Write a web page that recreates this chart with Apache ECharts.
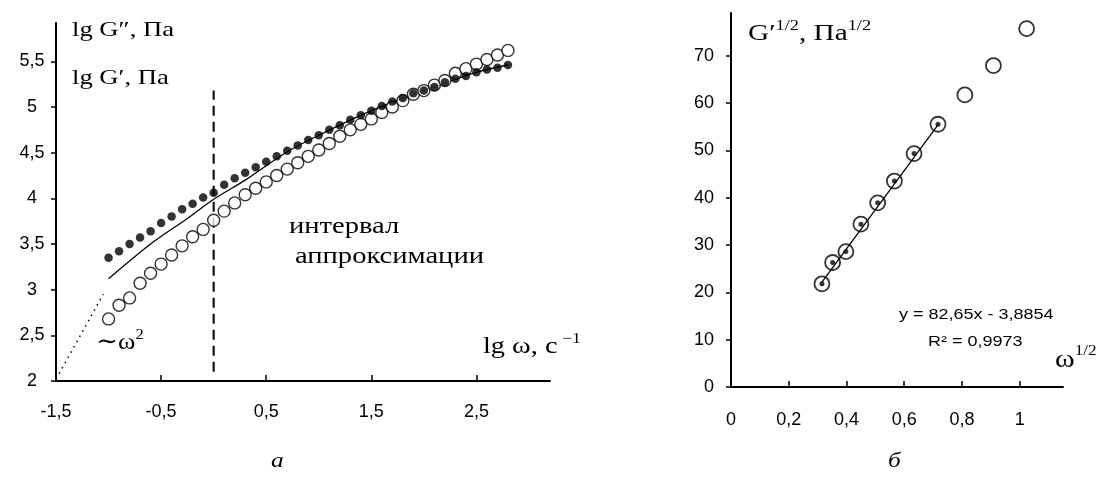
<!DOCTYPE html>
<html>
<head>
<meta charset="utf-8">
<script src="https://cdn.jsdelivr.net/npm/echarts@6/dist/echarts.min.js"></script>
<style>
  html, body { margin: 0; padding: 0; background: #fff; }
  #chart { width: 1103px; height: 492px; }
</style>
</head>
<body>
<div id="chart"></div>
<script>
// ---- Panel a: frequency sweep, lg G″ (filled) and lg G′ (open) vs lg ω ----
const lgOmega = [-1.0, -0.9, -0.8, -0.7, -0.6, -0.5, -0.4, -0.3, -0.2, -0.1,
                 0.0, 0.1, 0.2, 0.3, 0.4, 0.5, 0.6, 0.7, 0.8, 0.9,
                 1.0, 1.1, 1.2, 1.3, 1.4, 1.5, 1.6, 1.7, 1.8, 1.9,
                 2.0, 2.1, 2.2, 2.3, 2.4, 2.5, 2.6, 2.7, 2.8];
const lgLossModulus = [3.35, 3.42, 3.50, 3.57, 3.64, 3.73, 3.80, 3.88, 3.94, 4.01,
                       4.06, 4.15, 4.22, 4.28, 4.34, 4.40, 4.46, 4.52, 4.58, 4.64,
                       4.69, 4.75, 4.80, 4.86, 4.91, 4.96, 5.01, 5.06, 5.10, 5.15,
                       5.18, 5.22, 5.27, 5.31, 5.34, 5.38, 5.41, 5.43, 5.46];
const lgStorageModulus = [2.68, 2.83, 2.91, 3.07, 3.18, 3.28, 3.38, 3.48, 3.58, 3.66,
                          3.76, 3.86, 3.95, 4.04, 4.11, 4.18, 4.25, 4.32, 4.39, 4.46,
                          4.53, 4.60, 4.68, 4.75, 4.81, 4.87, 4.94, 5.00, 5.07, 5.14,
                          5.18, 5.24, 5.29, 5.37, 5.42, 5.47, 5.52, 5.57, 5.62];
// smooth guide curve
const guideX = [-1.0, -0.6, -0.25, 0.0, 0.3, 0.7, 1.0, 1.5, 2.0, 2.5, 2.8];
const guideY = [3.12, 3.50, 3.78, 3.99, 4.20, 4.51, 4.69, 4.96, 5.18, 5.38, 5.46];
// terminal slope ~ω² (dotted)
const slopeX = [-1.47, -1.05];
const slopeY = [2.08, 2.95];
// boundary of the approximation interval (dashed)
const boundaryX = [0, 0];
const boundaryY = [2.1, 5.18];
const leftXTicks = [-1.5, -0.5, 0.5, 1.5, 2.5];
const leftYTicks = [2, 2.5, 3, 3.5, 4, 4.5, 5, 5.5];

// ---- Panel б: G′^(1/2) vs ω^(1/2) with linear fit ----
const rootOmega = [0.315, 0.352, 0.398, 0.450, 0.508, 0.566, 0.634, 0.717, 0.810, 0.909, 1.024];
const rootStorage = [21.8, 26.3, 28.6, 34.4, 38.9, 43.5, 49.3, 55.5, 61.7, 67.9, 75.7];
const fitCount = 8;          // points used in the fit
const fitSlope = 82.65;
const fitIntercept = -3.8854;
const fitR2 = 0.9973;
const rightXTicks = [0, 0.2, 0.4, 0.6, 0.8, 1];
const rightYTicks = [0, 10, 20, 30, 40, 50, 60, 70];

const comma = v => String(v).replace('.', ',');
const zip = (xs, ys) => xs.map((x, i) => [x, ys[i]]);

const tickFont = { fontFamily: 'Liberation Sans', fontSize: 18, color: '#000' };
const serif = '"Liberation Serif", "DejaVu Serif", serif';
const axisLine = { show: true, onZero: false, lineStyle: { color: '#000', width: 2 } };

function text(content, x, y, font, scaleX, extra) {
  return {
    type: 'text', x: x, y: y, scaleX: scaleX || 1, silent: true,
    style: Object.assign({
      text: content, font: font, fill: '#000',
      textAlign: 'left', textVerticalAlign: 'middle'
    }, extra || {})
  };
}
function richText(content, x, y, big, small, scaleX) {
  return text(content, x, y, big, scaleX, {
    rich: {
      m: { font: big, lineHeight: big.match(/(\d+)px/)[1] * 1.3 },
      s: { font: small, verticalAlign: 'top' }
    }
  });
}

const fitX = [rootOmega[0], rootOmega[fitCount - 1]];
const fitLine = fitX.map(x => [x, fitSlope * x + fitIntercept]);

const chart = echarts.init(document.getElementById('chart'), null, { renderer: 'canvas' });
chart.setOption({
  animation: false,
  backgroundColor: '#fff',
  grid: [
    { left: 56, top: 23, width: 494, height: 358 },
    { left: 731, top: 13, width: 332, height: 374 }
  ],
  xAxis: [
    {
      type: 'value', gridIndex: 0, min: -1.5, max: 3.2,
      axisLine: axisLine, splitLine: { show: false },
      axisTick: { inside: true, length: 6, customValues: leftXTicks, lineStyle: { color: '#000', width: 1.5 } },
      axisLabel: Object.assign({ customValues: leftXTicks, formatter: comma, margin: 22 }, tickFont)
    },
    {
      type: 'value', gridIndex: 1, min: 0, max: 1.15,
      axisLine: axisLine, splitLine: { show: false },
      axisTick: { inside: true, length: 6, customValues: rightXTicks, lineStyle: { color: '#000', width: 1.5 } },
      axisLabel: Object.assign({ customValues: rightXTicks, formatter: comma, margin: 24 }, tickFont)
    }
  ],
  yAxis: [
    {
      type: 'value', gridIndex: 0, min: 2, max: 5.92,
      axisLine: axisLine, splitLine: { show: false },
      axisTick: { length: 5, customValues: leftYTicks, lineStyle: { color: '#000', width: 1.5 } },
      axisLabel: Object.assign({ customValues: leftYTicks, formatter: comma, margin: 24, align: 'center' }, tickFont)
    },
    {
      type: 'value', gridIndex: 1, min: 0, max: 79,
      axisLine: axisLine, splitLine: { show: false },
      axisTick: { length: 5, customValues: rightYTicks, lineStyle: { color: '#000', width: 1.5 } },
      axisLabel: Object.assign({ customValues: rightYTicks, formatter: comma, margin: 17 }, tickFont)
    }
  ],
  series: [
    {
      type: 'line', xAxisIndex: 0, yAxisIndex: 0, data: zip(guideX, guideY),
      smooth: 0.3, showSymbol: false, lineStyle: { color: '#000', width: 1.3 }, z: 2
    },
    {
      type: 'line', xAxisIndex: 0, yAxisIndex: 0, data: zip(slopeX, slopeY),
      showSymbol: false, lineStyle: { color: '#000', width: 1.5, type: [1.5, 4.5] }, z: 2
    },
    {
      type: 'line', xAxisIndex: 0, yAxisIndex: 0, data: zip(boundaryX, boundaryY),
      showSymbol: false, lineStyle: { color: '#000', width: 2, type: [10, 6] }, z: 2
    },
    {
      name: 'G′', type: 'scatter', xAxisIndex: 0, yAxisIndex: 0,
      data: zip(lgOmega, lgStorageModulus), symbol: 'circle', symbolSize: 12,
      itemStyle: { color: '#fff', borderColor: '#000', borderWidth: 1.4 }, z: 3
    },
    {
      name: 'G″', type: 'scatter', xAxisIndex: 0, yAxisIndex: 0,
      data: zip(lgOmega, lgLossModulus), symbol: 'circle', symbolSize: 8.5,
      itemStyle: { color: '#000' }, z: 4
    },
    {
      type: 'line', xAxisIndex: 1, yAxisIndex: 1, data: fitLine,
      showSymbol: false, lineStyle: { color: '#000', width: 1.3 }, z: 2
    },
    {
      type: 'scatter', xAxisIndex: 1, yAxisIndex: 1, data: zip(rootOmega, rootStorage),
      symbol: 'circle', symbolSize: 15,
      itemStyle: { color: 'rgba(255,255,255,0)', borderColor: '#000', borderWidth: 1.8 }, z: 3
    },
    {
      type: 'scatter', xAxisIndex: 1, yAxisIndex: 1,
      data: zip(rootOmega.slice(0, fitCount), rootStorage.slice(0, fitCount)),
      symbol: 'circle', symbolSize: 5, itemStyle: { color: '#000' }, z: 4
    }
  ],
  graphic: [
    text('lg G″, Па', 72, 30, '22px ' + serif, 1.21),
    text('lg G′, Па', 72, 78, '22px ' + serif, 1.21),
    text('интервал', 289, 227, '24px ' + serif, 1.19),
    text('аппроксимации', 295, 257, '24px ' + serif, 1.19),
    richText('{m|lg ω, с}{s| −1}', 483, 347, '24px ' + serif, '15px ' + serif, 1.18),
    richText('{m|∼ω}{s|2}', 96, 343, '24px ' + serif, '15px ' + serif, 1.1),
    text('а', 271, 461, 'italic 22px ' + serif, 1.15),
    text('б', 888, 461, 'italic 22px ' + serif, 1.15),
    richText('{m|G′}{s|1/2}{m|, Па}{s|1/2}', 748, 34, '24px ' + serif, '15px ' + serif, 1.22),
    richText('{m|ω}{s|1/2}', 1055, 360, '26px ' + serif, '15px ' + serif, 1.15),
    text('y = ' + comma(fitSlope) + 'x - ' + comma(Math.abs(fitIntercept)), 899, 315,
         '15px "Liberation Sans"', 1.2),
    text('R² = ' + comma(fitR2), 928, 342, '15px "Liberation Sans"', 1.2)
  ]
});
</script>
</body>
</html>
